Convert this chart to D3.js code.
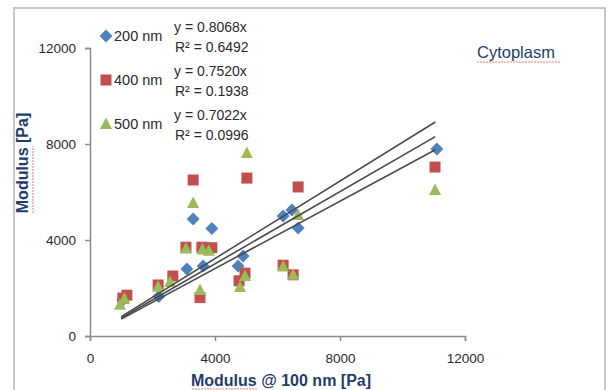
<!DOCTYPE html>
<html><head><meta charset="utf-8">
<script src="https://cdn.jsdelivr.net/npm/d3@7"></script>
<style>html,body{margin:0;padding:0;background:#fff;}svg{display:block;}</style>
</head><body>
<svg id="c" width="611" height="390"></svg>
<script>
const xTicks = [0, 4000, 8000, 12000];
const yTicks = [0, 4000, 8000, 12000];
const seriesNames = ["200 nm", "400 nm", "500 nm"];
const slopes = [0.8068, 0.7520, 0.7022];
const eqLabels = ["y = 0.8068x", "y = 0.7520x", "y = 0.7022x"];
const r2Labels = ["R² = 0.6492", "R² = 0.1938", "R² = 0.0996"];
const trendRange = [1000, 11050];
const s200x = [1050, 2200, 3100, 3300, 3620, 3900, 4740, 4900, 6180, 6460, 6660, 11100];
const s200y = [1500, 1650, 2790, 4880, 2920, 4480, 2920, 3330, 5000, 5250, 4500, 7790];
const s400x = [1050, 1180, 2180, 2650, 3070, 3300, 3520, 3580, 3900, 4770, 4960, 5020, 6180, 6500, 6660, 11040];
const s400y = [1580, 1700, 2125, 2500, 3700, 6500, 1600, 3700, 3680, 2300, 2620, 6580, 2950, 2550, 6210, 7040];
const s500x = [960, 1100, 2180, 2560, 3070, 3300, 3520, 3600, 3800, 4800, 4960, 5020, 6180, 6500, 6660, 11040];
const s500y = [1300, 1550, 2050, 2250, 3650, 5540, 1920, 3600, 3550, 2040, 2500, 7625, 2900, 2550, 5040, 6080];
const colors = ["#4F81BD", "#C0504D", "#9BBB59"];

const svg = d3.select("#c");
const x = d3.scaleLinear().domain([0, 12000]).range([90, 465]);
const y = d3.scaleLinear().domain([0, 12000]).range([336, 48]);

// outer frame
svg.append("rect").attr("x", 14).attr("y", 8).attr("width", 591).attr("height", 400)
  .attr("fill", "#fff").attr("stroke", "#c8c8c8").attr("stroke-width", 2);

const font = "'Liberation Sans', Arial, sans-serif";
const txt = "#2a2a2a";

// axes
const xAxis = svg.append("g").attr("transform", "translate(0,336)")
  .call(d3.axisBottom(x).tickValues(xTicks).tickSize(5).tickPadding(12).tickFormat(d3.format("d")));
const yAxis = svg.append("g").attr("transform", "translate(90,0)")
  .call(d3.axisLeft(y).tickValues(yTicks).tickSize(5).tickPadding(9).tickFormat(d3.format("d")));
[xAxis, yAxis].forEach(a => {
  a.select(".domain").attr("stroke", "#8c8c8c").attr("stroke-width", 1.5);
  a.selectAll(".tick line").attr("stroke", "#8c8c8c").attr("stroke-width", 1.5);
  a.selectAll(".tick text").attr("fill", txt).attr("font-size", 13.5).attr("font-family", font);
});

// marker shapes
function marker(g, i, cx, cy) {
  if (i === 0) {
    g.append("path").attr("d", `M${cx},${cy-6.5}L${cx+6.5},${cy}L${cx},${cy+6.5}L${cx-6.5},${cy}Z`).attr("fill", colors[0]);
  } else if (i === 1) {
    g.append("rect").attr("x", cx-5.5).attr("y", cy-5.5).attr("width", 11).attr("height", 11).attr("fill", colors[1]);
  } else {
    g.append("path").attr("d", `M${cx},${cy-6.5}L${cx+6},${cy+5}L${cx-6},${cy+5}Z`).attr("fill", colors[2]);
  }
}

const seriesX = [s200x, s400x, s500x];
const seriesY = [s200y, s400y, s500y];
const pts = svg.append("g");
[0, 1, 2].forEach(i => {
  seriesX[i].forEach((v, j) => marker(pts, i, x(v), y(seriesY[i][j])));
});

// trendlines
const tl = svg.append("g");
slopes.forEach(m => {
  tl.append("line").attr("x1", x(trendRange[0])).attr("y1", y(m * trendRange[0]))
    .attr("x2", x(trendRange[1])).attr("y2", y(m * trendRange[1]))
    .attr("stroke", "#4a4a4a").attr("stroke-width", 1.6);
});

// legend
const legY = [36, 80, 124];
const leg = svg.append("g");
seriesNames.forEach((n, i) => {
  marker(leg, i, 106, legY[i]);
  leg.append("text").attr("x", 114).attr("y", legY[i]).attr("dy", "0.35em")
    .attr("font-size", 14.5).attr("font-family", font).attr("fill", txt).text(n);
  leg.append("text").attr("x", 174).attr("y", legY[i] - 9).attr("dy", "0.35em")
    .attr("font-size", 14).attr("font-family", font).attr("fill", txt).text(eqLabels[i]);
  leg.append("text").attr("x", 175).attr("y", legY[i] + 11).attr("dy", "0.35em")
    .attr("font-size", 14).attr("font-family", font).attr("fill", txt).text(r2Labels[i]);
});

// labels
function squiggle(x1, y1, x2, y2) {
  svg.append("line").attr("x1", x1).attr("x2", x2).attr("y1", y1).attr("y2", y2)
    .attr("stroke", "#e06060").attr("stroke-width", 1).attr("stroke-dasharray", "2,1").attr("opacity", 0.8);
}
svg.append("text").attr("x", 477).attr("y", 52).attr("dy", "0.35em")
  .attr("font-size", 16.5).attr("font-family", font).attr("fill", "#1F3D6B").text("Cytoplasm");
squiggle(477, 62, 560, 62);

svg.append("text").attr("x", 281).attr("y", 380).attr("dy", "0.35em").attr("text-anchor", "middle")
  .attr("font-size", 16).attr("font-weight", "bold").attr("font-family", font).attr("fill", "#1F3D6B")
  .text("Modulus @ 100 nm [Pa]");
squiggle(192, 389, 258, 389);
svg.append("text").attr("transform", "translate(22,163) rotate(-90)").attr("dy", "0.35em").attr("text-anchor", "middle")
  .attr("font-size", 16).attr("font-weight", "bold").attr("font-family", font).attr("fill", "#1F3D6B")
  .text("Modulus [Pa]");
squiggle(33, 213, 33, 146);
</script>
</body></html>
